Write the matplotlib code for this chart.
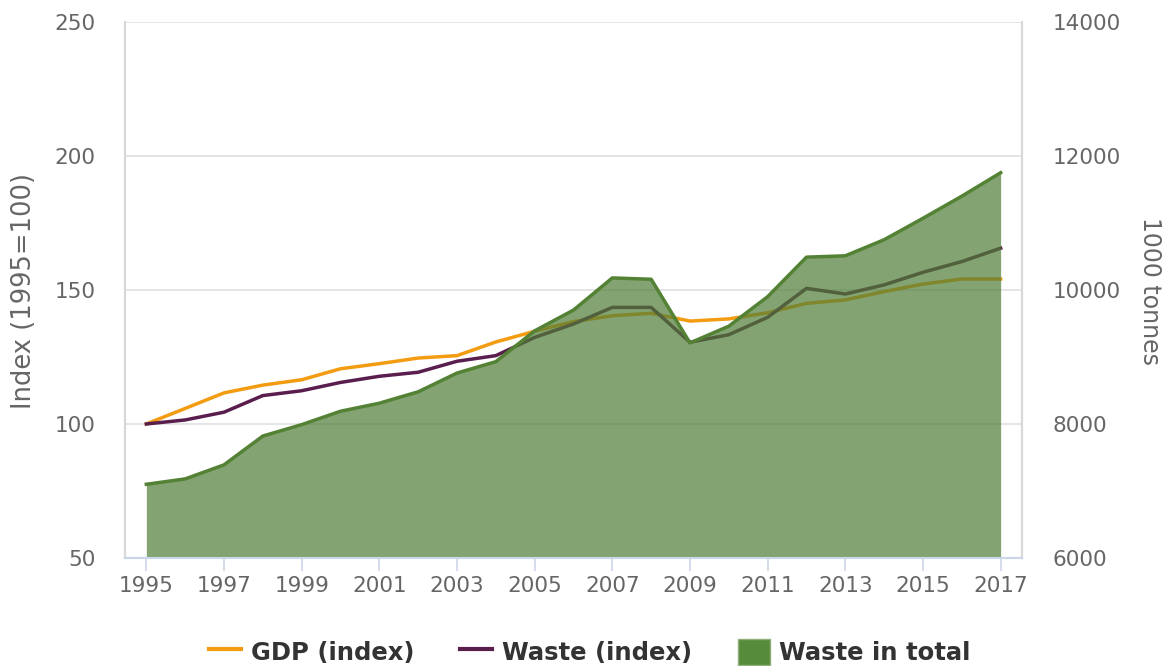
import matplotlib.pyplot as plt
import matplotlib.lines as mlines
import matplotlib.patches as mpatches

# Data
years = list(range(1995, 2018))
gdp_index = [100, 105.8, 111.6, 114.5, 116.5, 120.6, 122.5, 124.6, 125.5, 130.6,
             134.6, 138.2, 140.4, 141.3, 138.4, 139.2, 141.5, 145.0, 146.3, 149.4,
             152.2, 154.1, 154.1]
waste_index = [100, 101.5, 104.4, 110.6, 112.4, 115.5, 117.8, 119.3, 123.4, 125.5,
               132.3, 137.3, 143.5, 143.5, 130.5, 133.3, 139.8, 150.6, 148.5, 151.9,
               156.6, 160.6, 165.6]
waste_total = [7100, 7180, 7390, 7820, 7990, 8190, 8310, 8480, 8760, 8930,
               9390, 9700, 10180, 10160, 9210, 9460, 9900, 10490, 10510, 10750,
               11070, 11400, 11750]
year_ticks = list(range(1995, 2018, 2))

grey = '#666666'
grid_col = '#e0e0e0'
axis_col = '#ccd6eb'
c_gdp = '#f39c12'
c_waste = '#5a1e4e'
c_fill = '#4f7d36'
c_edge = '#548235'

fig = plt.figure(figsize=(11.66, 6.66), dpi=100)
ax1 = fig.add_axes([0.1072, 0.1622, 0.7693, 0.8048])
ax2 = ax1.twinx()
ax1.set_zorder(1)
ax2.set_zorder(2)
ax2.patch.set_visible(False)

ax1.plot(years, gdp_index, color=c_gdp, lw=2.5)
ax1.plot(years, waste_index, color=c_waste, lw=2.5)
ax1.set_ylim(50, 250)
ax1.set_yticks([50, 100, 150, 200, 250])
ax1.grid(axis='y', color=grid_col, lw=1.2)
ax1.set_axisbelow(True)

ax2.fill_between(years, 6000, waste_total, color=c_fill, alpha=0.7, lw=0)
ax2.plot(years, waste_total, color=c_edge, lw=2.5)
ax2.set_ylim(6000, 14000)
ax2.set_yticks([6000, 8000, 10000, 12000, 14000])

ax1.set_xlim(1994.45, 2017.55)
ax1.set_xticks(year_ticks)

for ax in (ax1, ax2):
    ax.spines['top'].set_visible(False)
    ax.spines['left'].set_color('#d8d8d8')
    ax.spines['right'].set_color('#d8d8d8')
    ax.spines['bottom'].set_color(axis_col)
    ax.spines['left'].set_linewidth(1.5)
    ax.spines['right'].set_linewidth(1.5)
    ax.spines['bottom'].set_linewidth(1.5)
    ax.tick_params(axis='y', length=0, labelsize=15.5, labelcolor=grey)

ax1.tick_params(axis='y', pad=21)
ax2.tick_params(axis='y', pad=22)
ax1.tick_params(axis='x', length=9, width=1.2, color=axis_col, labelsize=15.5,
                labelcolor=grey, pad=4)

# axis titles placed where the reference has them
fig.text(24 / 1166, 1 - 291 / 666, 'Index (1995=100)', color=grey, fontsize=18.5,
         rotation=90, ha='center', va='center')
fig.text(1150 / 1166, 1 - 291 / 666, '1000 tonnes', color=grey, fontsize=17,
         rotation=270, ha='center', va='center')

handles = [
    mlines.Line2D([], [], color=c_gdp, lw=3),
    mlines.Line2D([], [], color=c_waste, lw=3),
    mpatches.Patch(facecolor='#558b3b', edgecolor='#8fb07a'),
]
labels = ['GDP (index)', 'Waste (index)', 'Waste in total']
fig.legend(handles, labels, loc='center', bbox_to_anchor=(0.506, 0.021), ncol=3,
           frameon=False, handlelength=1.3, handleheight=1.3, columnspacing=1.9,
           handletextpad=0.4, prop={'weight': 'bold', 'size': 17.5}, labelcolor='#333333')

fig.savefig('out.png', dpi=100)
